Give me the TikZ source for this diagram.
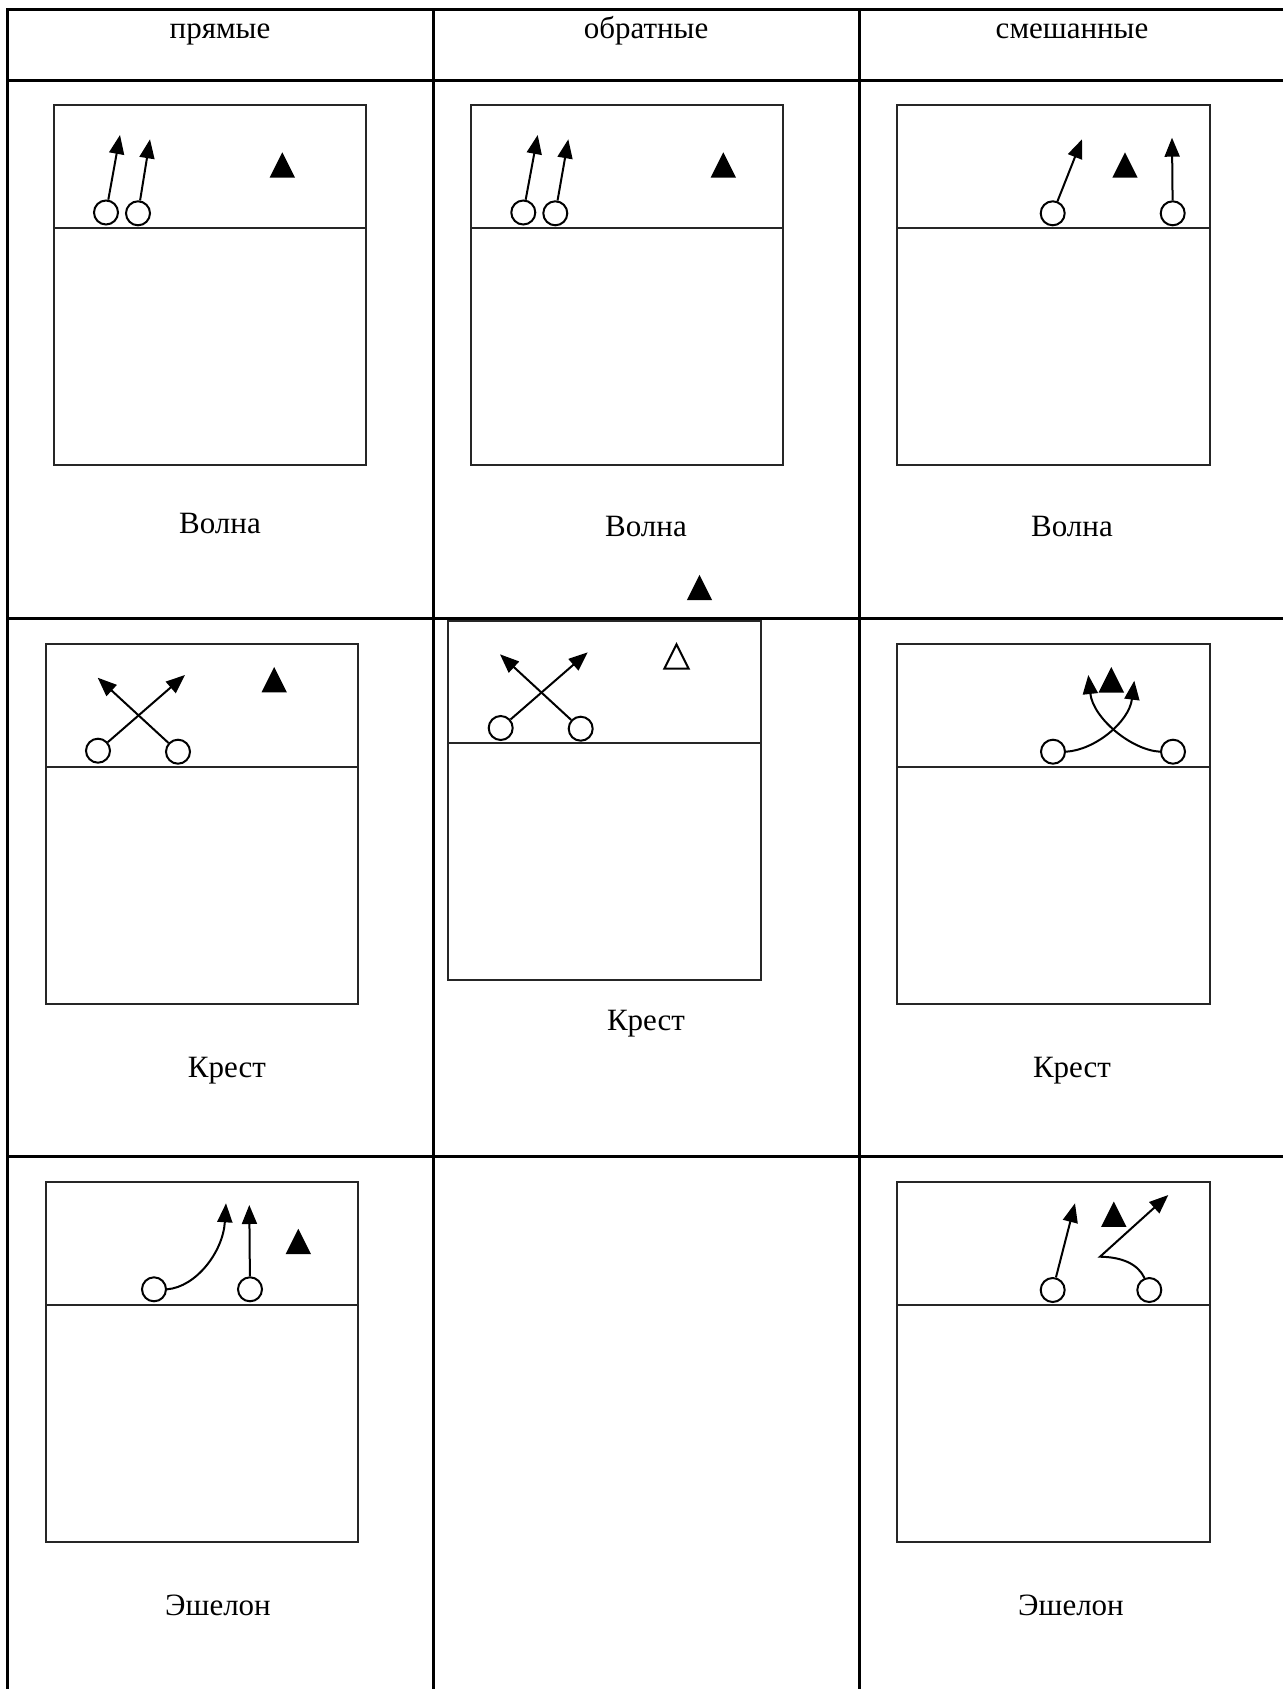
\documentclass[tikz,border=0pt]{standalone}
\usepackage{fontspec}
\setmainfont{Liberation Serif}
\usetikzlibrary{arrows.meta}
\begin{document}
\begin{tikzpicture}[x=1pt,y=-1pt,
  tbl/.style={line width=3pt},
  court/.style={line width=2pt, draw=black!85},
  pl/.style={circle, draw, line width=2pt, minimum size=24pt, inner sep=0pt, fill=white},
  mv/.style={line width=2pt, -{Triangle[length=19pt,width=15pt]}},
  lbl/.style={font=\fontsize{31}{36}\selectfont, anchor=base, inner sep=0pt},
  opp/.pic={\fill (-12.7,12.7) -- (12.7,12.7) -- (0,-12.7) -- cycle;},
  oppo/.pic={\draw[line width=2pt] (-12.2,12.2) -- (12.2,12.2) -- (0,-12.2) -- cycle;}]
\useasboundingbox (0,0) rectangle (1283,1689);

% table
\draw[tbl] (1283,9) -- (7,9) -- (7,1689);
\draw[tbl] (7,80) -- (1283,80);
\draw[tbl] (7,618) -- (1283,618);
\draw[tbl] (7,1156) -- (1283,1156);
\draw[tbl] (433,9) -- (433,1689);
\draw[tbl] (859,9) -- (859,1689);

% headers
\node[lbl] (h1) at (220,38) {прямые};
\node[lbl] (h2) at (646,38) {обратные};
\node[lbl] (h3) at (1072,38) {смешанные};

% ---------- row 1 ----------
\draw[court] (54,105) rectangle (366,465);
\draw[court] (54,228) -- (366,228);
\draw[court] (471,105) rectangle (783,465);
\draw[court] (471,228) -- (783,228);
\draw[court] (897,105) rectangle (1210,465);
\draw[court] (897,228) -- (1210,228);

% r1 c1
\node[pl] (a1) at (106,212.5) {};
\node[pl] (a2) at (138,213.3) {};
\coordinate (a1t) at (120,135);
\coordinate (a2t) at (150,139.3);
\draw[mv] (a1) -- (a1t);
\draw[mv] (a2) -- (a2t);
\pic at (282.3,165) {opp};
\node[lbl] (l11) at (220,533) {Волна};

% r1 c2
\node[pl] (b1) at (523.3,212.5) {};
\node[pl] (b2) at (555.3,213.3) {};
\coordinate (b1t) at (537.7,135);
\coordinate (b2t) at (568.3,139.3);
\draw[mv] (b1) -- (b1t);
\draw[mv] (b2) -- (b2t);
\pic at (723.3,165) {opp};
\node[lbl] (l12) at (646,536) {Волна};

% r1 c3
\node[pl] (c1) at (1052.7,213.3) {};
\node[pl] (c2) at (1172.7,213.3) {};
\coordinate (c1t) at (1082,139.3);
\coordinate (c2t) at (1172,137.7);
\draw[mv] (c1) -- (c1t);
\draw[mv] (c2) -- (c2t);
\pic at (1125,165) {opp};
\node[lbl] (l13) at (1072,536) {Волна};

% ---------- row 2 ----------
\draw[court] (46,644) rectangle (358,1004);
\draw[court] (46,767) -- (358,767);
\draw[court] (448,621) rectangle (761,980);
\draw[court] (448,743) -- (761,743);
\draw[court] (897,644) rectangle (1210,1004);
\draw[court] (897,767) -- (1210,767);

% r2 c1
\node[pl] (d1) at (98,750.7) {};
\node[pl] (d2) at (178,751.7) {};
\coordinate (d1t) at (185,675);
\coordinate (d2t) at (97.7,677.7);
\draw[mv] (d1) -- (d1t);
\draw[mv] (d2) -- (d2t);
\pic at (274.2,679.6) {opp};
\node[lbl] (l21) at (227,1077) {Крест};

% r2 c2
\node[pl] (e1) at (500.7,728) {};
\node[pl] (e2) at (580.7,728.7) {};
\coordinate (e1t) at (587.7,652.3);
\coordinate (e2t) at (500,654.3);
\draw[mv] (e1) -- (e1t);
\draw[mv] (e2) -- (e2t);
\pic at (676.5,656.5) {oppo};
\pic at (699.5,587.5) {opp};
\node[lbl] (l22) at (646,1030) {Крест};

% r2 c3
\node[pl] (f1) at (1053,751.7) {};
\node[pl] (f2) at (1173,751.7) {};
\coordinate (f1t) at (1134.3,680.7);
\coordinate (f2t) at (1088.3,675);
\draw[mv] (f1.east) .. controls (1095,750) and (1129,722) .. (f1t);
\draw[mv] (f2.west) .. controls (1131,750) and (1093,718) .. (f2t);
\pic at (1111.3,679.8) {opp};
\node[lbl] (l23) at (1072,1077) {Крест};

% ---------- row 3 ----------
\draw[court] (46,1182) rectangle (358,1542);
\draw[court] (46,1305) -- (358,1305);
\draw[court] (897,1182) rectangle (1210,1542);
\draw[court] (897,1305) -- (1210,1305);

% r3 c1
\node[pl] (g1) at (154,1289.3) {};
\node[pl] (g2) at (250,1289.3) {};
\coordinate (g1t) at (226,1203.3);
\coordinate (g2t) at (249.3,1205);
\draw[mv] (g1.east) .. controls (196,1287) and (223,1252) .. (g1t);
\draw[mv] (g2) -- (g2t);
\pic at (298.3,1241.5) {opp};
\node[lbl] (l31) at (218,1615) {Эшелон};

% r3 c3
\node[pl] (k1) at (1052.7,1290) {};
\node[pl] (k2) at (1149.3,1290) {};
\coordinate (k1t) at (1075,1203.3);
\coordinate (kc) at (1100,1256.7);
\coordinate (k2t) at (1168.3,1195);
\draw[mv] (k1) -- (k1t);
\draw[mv] (k2.112) .. controls (1138,1264) and (1122,1257) .. (kc) -- (k2t);
\pic at (1113.8,1214.2) {opp};
\node[lbl] (l33) at (1071,1615) {Эшелон};
\end{tikzpicture}
\end{document}
